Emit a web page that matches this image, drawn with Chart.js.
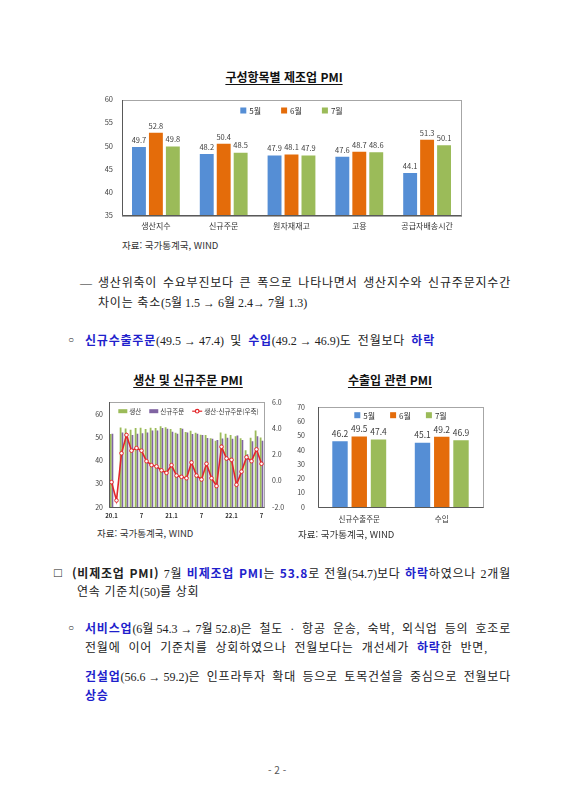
<!DOCTYPE html>
<html lang="ko">
<head>
<meta charset="utf-8">
<script src="https://cdn.jsdelivr.net/npm/chart.js@4.4.1/dist/chart.umd.min.js"></script>
<style>
  body { margin:0; background:#fff; }
  #page { position:relative; width:566px; height:800px; overflow:hidden; }
  .ttl { position:absolute; width:200px; text-align:center; font-family:"Noto Sans CJK KR"; font-weight:bold;
         font-size:12px; line-height:16px; color:#111; text-decoration:underline; text-underline-offset:2px; }
  .src { position:absolute; font-family:"Noto Sans CJK KR"; font-size:9.5px; line-height:14px; color:#333; white-space:nowrap; }
  .t { position:absolute; font-family:"Liberation Serif","Noto Sans CJK KR"; font-size:12px; line-height:16px; height:16px;
       color:#222; white-space:nowrap; letter-spacing:0.8px; }
  .p { font-size:12px; display:inline-block; white-space:nowrap; word-spacing:0; letter-spacing:0; }
  .b { font-family:"Noto Sans CJK KR"; font-weight:bold; color:#1f1fcc; }
  .k { font-family:"Noto Sans CJK KR"; font-weight:bold; }
  canvas { position:absolute; }
</style>
</head>
<body>
<div id="page">

<div class="ttl" style="left:184px;top:69px">구성항목별 제조업 PMI</div>
<canvas id="c1" width="390" height="152" style="left:80px;top:86px"></canvas>
<div class="src" style="left:122px;top:238px">자료: 국가통계국, WIND</div>

<div class="t" style="left:80px;top:275px">—</div>
<div class="t j" data-w="413" style="left:98px;top:275px">생산위축이 수요부진보다 큰 폭으로 나타나면서 생산지수와 신규주문지수간</div>
<div class="t" style="left:98px;top:295px">차이는 축소<span class="p">(5월 1.5 → 6월 2.4→ 7월 1.3)</span></div>

<div class="t" style="left:68px;top:332px;font-size:10px">○</div>
<div class="t j" data-w="350" style="left:85px;top:332px"><span class="b">신규수출주문</span><span class="p">(49.5 → 47.4)</span> 및 <span class="b">수입</span><span class="p">(49.2 → 46.9)</span>도 전월보다 <span class="b">하락</span></div>

<div class="ttl" style="left:88px;top:372px">생산 및 신규주문 PMI</div>
<canvas id="c2" width="210" height="135" style="left:80px;top:390px"></canvas>
<div class="src" style="left:97px;top:526px">자료: 국가통계국, WIND</div>

<div class="ttl" style="left:290px;top:372px">수출입 관련 PMI</div>
<canvas id="c3" width="200" height="140" style="left:290px;top:390px"></canvas>
<div class="src" style="left:298px;top:527px">자료: 국가통계국, WIND</div>

<div class="t" style="left:54px;top:565px;font-size:13px">□</div>
<div class="t j" data-w="439" style="left:72px;top:565px"><span class="k">(비제조업 PMI)</span> 7월 <span class="b">비제조업 PMI</span>는 <span class="b">53.8</span>로 전월<span class="p">(54.7)</span>보다 <span class="b">하락</span>하였으나 2개월</div>
<div class="t" style="left:77px;top:584px">연속 기준치<span class="p">(50)</span>를 상회</div>

<div class="t" style="left:68px;top:620px;font-size:10px">○</div>
<div class="t j" data-w="426" style="left:85px;top:620px"><span class="b">서비스업</span><span class="p">(6월 54.3 → 7월 52.8)</span>은 철도 · 항공 운송, 숙박, 외식업 등의 호조로</div>
<div class="t j" data-w="403" style="left:85px;top:639px">전월에 이어 기준치를 상회하였으나 전월보다는 개선세가 <span class="b">하락</span>한 반면,</div>
<div class="t j" data-w="426" style="left:85px;top:668px"><span class="b">건설업</span><span class="p">(56.6 → 59.2)</span>은 인프라투자 확대 등으로 토목건설을 중심으로 전월보다</div>
<div class="t" style="left:85px;top:687px"><span class="b">상승</span></div>

<div class="t" style="left:268px;top:762px;font-family:'Noto Sans CJK KR';font-size:10px;color:#555;letter-spacing:0">- 2 -</div>
</div>

<script>
// chart 1 : 구성항목별 제조업 PMI
const itemCats = ['생산지수', '신규주문', '원자재재고', '고용', '공급자배송시간'];
const itemMay = [49.7, 48.2, 47.9, 47.6, 44.1];
const itemJun = [52.8, 50.4, 48.1, 48.7, 51.3];
const itemJul = [49.8, 48.5, 47.9, 48.6, 50.1];
const monthNames = ['5월', '6월', '7월'];

// chart 2 : 생산 및 신규주문 PMI (20.1 ~ 22.7)
const months = ['20.1','20.2','20.3','20.4','20.5','20.6','20.7','20.8','20.9','20.10','20.11','20.12',
                '21.1','21.2','21.3','21.4','21.5','21.6','21.7','21.8','21.9','21.10','21.11','21.12',
                '22.1','22.2','22.3','22.4','22.5','22.6','22.7'];
const production = [51.3, null, 54.1, 53.7, 53.2, 53.9, 54.0, 53.5, 54.0, 53.9, 54.7, 54.2,
                    53.5, 51.9, 53.9, 52.2, 52.7, 51.9, 51.0, 50.9, 49.5, 48.4, 52.0, 51.4,
                    50.9, 50.4, 49.5, 44.4, 49.7, 52.8, 49.8];
const newOrders = [51.4, null, 52.0, 50.2, 50.9, 51.4, 51.7, 52.0, 52.8, 52.8, 53.9, 53.6,
                   52.3, 51.5, 53.6, 52.0, 51.3, 51.5, 50.9, 49.6, 49.3, 48.8, 49.4, 49.7,
                   49.3, 50.7, 48.8, 42.6, 48.2, 50.4, 48.5];
const prodGap = [-0.1, -1.5, 2.1, 3.5, 2.3, 2.5, 2.3, 1.5, 1.2, 1.1, 0.8, 0.6,
                 1.2, 0.4, 0.3, 0.2, 1.4, 0.4, 0.1, 1.3, 0.2, -0.4, 2.6, 1.7,
                 1.6, -0.3, 0.7, 1.8, 1.5, 2.4, 1.3];

// chart 3 : 수출입 관련 PMI
const tradeCats = ['신규수출주문', '수입'];
const tradeMay = [46.2, 45.1];
const tradeJun = [49.5, 49.2];
const tradeJul = [47.4, 46.9];

const FONT = 'Noto Sans CJK KR';
const BLUE = '#558ed5', ORANGE = '#e46c0a', GREEN = '#9bbb59', PURPLE = '#8064a2', RED = '#e3262a';

// spread the words of a line over its width (hwp style justified lines)
function justifyLines() {
  document.querySelectorAll('.j').forEach(el => {
    el.style.wordSpacing = '0px';
    const target = parseFloat(el.dataset.w);
    const natural = el.getBoundingClientRect().width;
    let n = 0;
    el.childNodes.forEach(nd => {
      if (nd.classList && nd.classList.contains('p')) return;
      n += (nd.textContent.match(/ /g) || []).length;
    });
    if (n > 0) el.style.wordSpacing = ((target - natural) / n) + 'px';
  });
}
justifyLines();
if (document.fonts) document.fonts.ready.then(justifyLines);

// legend drawn inside the plot area (like the excel charts)
const insideLegend = {
  id: 'insideLegend',
  afterDraw(chart, args, o) {
    const ctx = chart.ctx, a = chart.chartArea;
    ctx.save();
    ctx.font = o.size + 'px "' + FONT + '"';
    ctx.textBaseline = 'middle';
    const items = chart.data.datasets.map(ds => {
      const sw = ds.type === 'line' ? o.lineW : o.boxW;
      return { ds: ds, sw: sw, w: sw + o.textGap + ctx.measureText(ds.label).width };
    });
    const total = items.reduce((s, it) => s + it.w, 0) + o.gap * (items.length - 1);
    let x = (a.left + a.right) / 2 - total / 2 + (o.shift || 0);
    const y = a.top + o.dy;
    items.forEach(it => {
      if (it.ds.type === 'line') {
        ctx.strokeStyle = it.ds.borderColor;
        ctx.lineWidth = 1.2;
        ctx.beginPath(); ctx.moveTo(x, y); ctx.lineTo(x + it.sw, y); ctx.stroke();
        ctx.fillStyle = '#fff';
        ctx.beginPath(); ctx.arc(x + it.sw / 2, y, 1.8, 0, Math.PI * 2); ctx.fill(); ctx.stroke();
      } else {
        ctx.fillStyle = it.ds.backgroundColor;
        ctx.fillRect(x, y - o.boxH / 2, it.sw, o.boxH);
      }
      ctx.fillStyle = '#333';
      ctx.fillText(it.ds.label, x + it.sw + o.textGap, y + 0.5);
      x += it.w + o.gap;
    });
    ctx.restore();
  }
};

// value labels above bars
const barLabels = {
  id: 'barLabels',
  afterDatasetsDraw(chart, args, o) {
    const ctx = chart.ctx;
    ctx.save();
    ctx.font = o.size + 'px "' + FONT + '"';
    ctx.fillStyle = '#404040';
    ctx.textAlign = 'center';
    ctx.textBaseline = 'middle';
    chart.data.datasets.forEach((ds, i) => {
      chart.getDatasetMeta(i).data.forEach((bar, j) => {
        ctx.fillText(ds.data[j].toFixed(1), bar.x, bar.y - o.offset);
      });
    });
    ctx.restore();
  }
};

// plot area border
const frame = {
  id: 'frame',
  afterDraw(chart) {
    const ctx = chart.ctx, a = chart.chartArea;
    ctx.save();
    ctx.strokeStyle = '#a6a6a6';
    ctx.lineWidth = 1;
    ctx.strokeRect(Math.round(a.left) + 0.5, Math.round(a.top) + 0.5,
                   Math.round(a.right - a.left), Math.round(a.bottom - a.top));
    ctx.strokeStyle = '#595959';
    ctx.beginPath();
    ctx.moveTo(Math.round(a.left) + 0.5, Math.round(a.top));
    ctx.lineTo(Math.round(a.left) + 0.5, Math.round(a.bottom) + 0.5);
    ctx.lineTo(Math.round(a.right) + 0.5, Math.round(a.bottom) + 0.5);
    ctx.stroke();
    ctx.restore();
  }
};

const noGrid = { display: false, drawTicks: false };
const noBorder = { display: false };

new Chart(document.getElementById('c1'), {
  type: 'bar',
  data: {
    labels: itemCats,
    datasets: [
      { label: monthNames[0], data: itemMay, backgroundColor: BLUE },
      { label: monthNames[1], data: itemJun, backgroundColor: ORANGE },
      { label: monthNames[2], data: itemJul, backgroundColor: GREEN }
    ]
  },
  options: {
    responsive: false, animation: false, devicePixelRatio: 1,
    layout: { padding: { top: 7, right: 9, left: 0, bottom: 0 } },
    datasets: { bar: { categoryPercentage: 0.75, barPercentage: 0.82 } },
    scales: {
      x: { grid: noGrid, border: noBorder,
           ticks: { font: { family: FONT, size: 8 }, color: '#333', padding: 6 },
           afterFit(s) { s.height = 23; } },
      y: { min: 35, max: 60, grid: noGrid, border: noBorder,
           ticks: { stepSize: 5, font: { family: FONT, size: 7.5 }, color: '#404040', padding: 9 },
           afterFit(s) { s.width = 42; } }
    },
    plugins: {
      legend: { display: false }, tooltip: { enabled: false },
      insideLegend: { size: 8, boxW: 6, boxH: 6, lineW: 10, textGap: 3, gap: 20, dy: 11 },
      barLabels: { size: 7.5, offset: 7 }
    }
  },
  plugins: [frame, barLabels, insideLegend]
});

new Chart(document.getElementById('c2'), {
  type: 'bar',
  data: {
    labels: months,
    datasets: [
      { label: '생산', data: production, backgroundColor: GREEN, yAxisID: 'y', order: 1 },
      { label: '신규주문', data: newOrders, backgroundColor: PURPLE, yAxisID: 'y', order: 1 },
      { type: 'line', label: '생산-신규주문(우축)', data: prodGap, yAxisID: 'y1', order: 0,
        borderColor: RED, borderWidth: 1.6, pointRadius: 1.8, pointBorderWidth: 1,
        pointBackgroundColor: '#fff', pointBorderColor: RED, tension: 0 }
    ]
  },
  options: {
    responsive: false, animation: false, devicePixelRatio: 1,
    layout: { padding: { top: 7, right: 0, left: 0, bottom: 0 } },
    datasets: { bar: { categoryPercentage: 0.72, barPercentage: 1.0 } },
    scales: {
      x: { grid: noGrid, border: noBorder,
           ticks: { autoSkip: false, maxRotation: 0, font: { family: FONT, size: 6, weight: 'bold' }, color: '#333', padding: 5,
                    callback(v, i) {
                      const parts = months[i].split('.');
                      if (parts[1] === '1') return months[i];
                      if (parts[1] === '7') return '7';
                      return '';
                    } },
           afterFit(s) { s.height = 18; } },
      y: { position: 'left', min: 20, max: 65, grid: noGrid, border: noBorder,
           ticks: { stepSize: 10, font: { family: FONT, size: 7 }, color: '#404040', padding: 6,
                    callback(v) { return v % 10 === 0 ? v : ''; } },
           afterFit(s) { s.width = 29; } },
      y1: { position: 'right', min: -2, max: 6, grid: noGrid, border: noBorder,
            ticks: { stepSize: 2, font: { family: FONT, size: 7 }, color: '#404040', padding: 8,
                     callback(v) { return v.toFixed(1); } },
            afterFit(s) { s.width = 26; } }
    },
    plugins: {
      legend: { display: false }, tooltip: { enabled: false },
      insideLegend: { size: 6.5, boxW: 9, boxH: 4, lineW: 10, textGap: 2, gap: 8, dy: 9, shift: 2 }
    }
  },
  plugins: [frame, insideLegend]
});

new Chart(document.getElementById('c3'), {
  type: 'bar',
  data: {
    labels: tradeCats,
    datasets: [
      { label: monthNames[0], data: tradeMay, backgroundColor: BLUE },
      { label: monthNames[1], data: tradeJun, backgroundColor: ORANGE },
      { label: monthNames[2], data: tradeJul, backgroundColor: GREEN }
    ]
  },
  options: {
    responsive: false, animation: false, devicePixelRatio: 1,
    layout: { padding: { top: 7, right: 7, left: 0, bottom: 0 } },
    datasets: { bar: { categoryPercentage: 0.7, barPercentage: 0.8 } },
    scales: {
      x: { grid: noGrid, border: noBorder,
           ticks: { font: { family: FONT, size: 7.5 }, color: '#333', padding: 8 },
           afterFit(s) { s.height = 23; } },
      y: { min: 0, max: 70, grid: noGrid, border: noBorder,
           ticks: { stepSize: 10, font: { family: FONT, size: 7 }, color: '#404040', padding: 13 },
           afterFit(s) { s.width = 28; } }
    },
    plugins: {
      legend: { display: false }, tooltip: { enabled: false },
      insideLegend: { size: 8, boxW: 6, boxH: 6, lineW: 10, textGap: 3, gap: 15, dy: 8 },
      barLabels: { size: 8.5, offset: 7.5 }
    }
  },
  plugins: [frame, barLabels, insideLegend]
});
</script>
</body>
</html>
